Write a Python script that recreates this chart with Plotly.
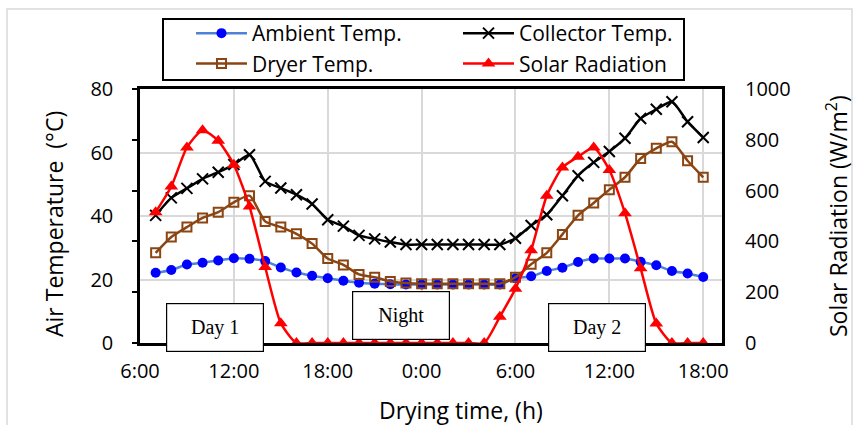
import plotly.graph_objects as go

# ---- data ----
hours = list(range(7, 43))  # 7:00 day 1 -> 18:00 day 2
ambient = [22.1, 23.0, 24.7, 25.3, 26.0, 26.7, 26.5, 25.8, 23.8, 22.2, 21.2, 20.4,
           19.6, 19.0, 18.7, 18.5, 18.4, 18.4, 18.4, 18.4, 18.4, 18.4, 18.4, 20.4,
           21.0, 22.7, 23.7, 25.5, 26.6, 26.6, 26.6, 25.6, 24.5, 22.7, 21.9, 20.8]
collector = [40.2, 45.7, 48.7, 51.7, 53.8, 56.2, 59.3, 50.9, 48.8, 46.7, 43.8, 38.8,
             36.8, 33.9, 32.8, 31.8, 31.0, 31.0, 31.0, 31.0, 31.0, 31.0, 31.0, 33.0,
             37.0, 40.4, 46.4, 52.7, 56.9, 60.3, 64.5, 70.7, 73.6, 76.0, 69.7, 64.7]
dryer = [28.4, 33.4, 36.5, 39.4, 41.2, 44.3, 46.4, 38.3, 36.5, 34.4, 31.3, 26.6,
         24.6, 21.6, 20.7, 19.4, 18.9, 18.7, 18.7, 18.7, 18.7, 18.7, 18.7, 20.7,
         24.8, 28.4, 34.2, 40.2, 44.1, 48.3, 52.2, 58.1, 61.3, 63.4, 57.4, 52.2]
solar = [515, 616, 770, 838, 796, 702, 537, 299, 78, 0, 0, 0,
         0, 0, 0, 0, 0, 0, 0, 0, 0, 0, 103, 214,
         365, 580, 691, 733, 770, 681, 511, 294, 77, 0, 0, 0]

x_tickvals = [6, 12, 18, 24, 30, 36, 42]
x_ticktext = ["6:00", "12:00", "18:00", "0:00", "6:00", "12:00", "18:00"]
period_labels = ["Day 1", "Night", "Day 2"]
period_hours = [10.8, 22.7, 35.2]
period_temps = [5.0, 8.8, 5.0]

FONT = "Open Sans"
W, H = 860, 425
L, R, T, B = 140, 722, 89, 343


def px(x):
    return (x - L) / (R - L)


def py(y):
    return (B - y) / (B - T)


fig = go.Figure()
fig.add_trace(go.Scatter(x=hours, y=ambient, name="Ambient Temp.", mode="lines+markers",
                         line=dict(color="#4F81D6", width=2.5, shape="spline", smoothing=0.6),
                         marker=dict(symbol="circle", size=10, color="#0000FF")))
fig.add_trace(go.Scatter(x=hours, y=collector, name="Collector Temp.", mode="lines+markers",
                         line=dict(color="#000000", width=2.5, shape="spline", smoothing=0.6),
                         marker=dict(symbol="x-thin", size=11, line=dict(color="#000000", width=2))))
fig.add_trace(go.Scatter(x=hours, y=dryer, name="Dryer Temp.", mode="lines+markers",
                         line=dict(color="#8B4513", width=2.5, shape="spline", smoothing=0.6),
                         marker=dict(symbol="square-open", size=9, color="#8B4513",
                                     line=dict(color="#8B4513", width=2))))
fig.add_trace(go.Scatter(x=hours, y=solar, name="Solar Radiation", mode="lines+markers", yaxis="y2",
                         line=dict(color="#FF0000", width=2.5, shape="spline", smoothing=0.6),
                         marker=dict(symbol="triangle-up", size=12, color="#FF0000")))
# invisible trace for the tick-mark axis on the left
fig.add_trace(go.Scatter(x=[hours[0]], y=[0], yaxis="y3", mode="markers",
                         marker=dict(opacity=0), showlegend=False, hoverinfo="skip"))

grid = "#D9D9D9"
fig.update_layout(
    width=W, height=H,
    margin=dict(l=L, r=W - R, t=T, b=H - B),
    paper_bgcolor="white", plot_bgcolor="white",
    font=dict(family=FONT, size=20, color="#000000"),
    xaxis=dict(range=[6, 43.2], tickvals=x_tickvals, ticktext=x_ticktext,
               showgrid=True, gridcolor=grid, gridwidth=1.5, zeroline=False,
               showline=True, linecolor="#000000", linewidth=2.5, mirror=True,
               ticks="", tickfont=dict(size=20), ticklabelstandoff=8),
    yaxis=dict(range=[0, 80], dtick=20, showgrid=True, gridcolor=grid, gridwidth=1.5,
               zeroline=False, showline=True, linecolor="#000000", linewidth=2.5, mirror=True,
               ticks="", tickfont=dict(size=20), ticklabelstandoff=20),
    yaxis2=dict(range=[0, 1000], dtick=200, overlaying="y", side="right", showgrid=False,
                zeroline=False, showline=False, ticks="", tickfont=dict(size=20),
                ticklabelstandoff=22),
    yaxis3=dict(range=[0, 1000], dtick=200, overlaying="y", side="left", showgrid=False,
                zeroline=False, showline=False, ticks="outside", ticklen=7, tickwidth=2,
                tickcolor="#000000", showticklabels=False),
    showlegend=True,
    legend=dict(orientation="h", x=px(191), xanchor="left", y=py(13), yanchor="top",
                entrywidth=201, entrywidthmode="pixels", itemwidth=51,
                bgcolor="rgba(0,0,0,0)", borderwidth=0, font=dict(size=21, family=FONT),
                traceorder="normal"),
)

shapes = [
    dict(type="rect", xref="paper", yref="paper", x0=px(7), x1=px(852), y0=py(440), y1=py(9),
         line=dict(color="#D9D9D9", width=1.5), layer="below"),
    dict(type="rect", xref="paper", yref="paper", x0=px(163), x1=px(684), y0=py(80), y1=py(19),
         line=dict(color="#000000", width=2)),
]
fig.update_layout(shapes=shapes)

annotations = [
    dict(text="Air Temperature  (°C)", xref="paper", yref="paper", x=px(54), y=py(224),
         textangle=-90, showarrow=False, font=dict(size=23, family=FONT), xanchor="center", yanchor="middle"),
    dict(text="Solar Radiation (W/m<sup>2</sup>)", xref="paper", yref="paper", x=px(837), y=py(216),
         textangle=-90, showarrow=False, font=dict(size=23, family=FONT), xanchor="center", yanchor="middle"),
    dict(text="Drying time, (h)", xref="paper", yref="paper", x=px(461), y=py(410),
         showarrow=False, font=dict(size=23, family=FONT), xanchor="center", yanchor="middle"),
]
for lab, hx, ty in zip(period_labels, period_hours, period_temps):
    annotations.append(dict(text=lab, x=hx, y=ty, xref="x", yref="y", showarrow=False,
                            font=dict(size=20, family="Liberation Serif", color="#000000"),
                            bgcolor="white", bordercolor="#000000", borderwidth=1.2, borderpad=0,
                            width=96, height=47, xanchor="center", yanchor="middle"))
fig.update_layout(annotations=annotations)

fig.write_html("out.html", config={"displayModeBar": False},
               post_script="document.body.style.margin='0';")
